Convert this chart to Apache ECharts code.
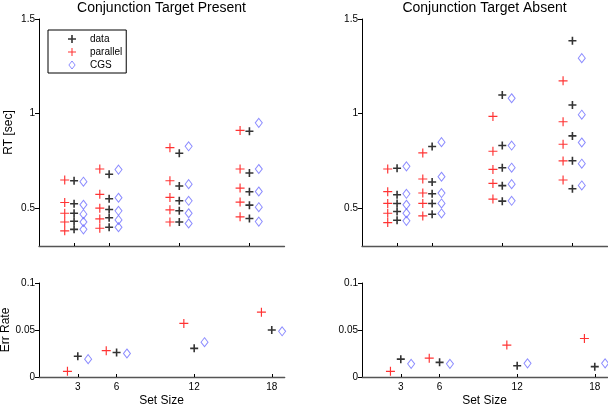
<!DOCTYPE html>
<html><head><meta charset="utf-8">
<script src="https://cdn.jsdelivr.net/npm/echarts@6/dist/echarts.min.js"></script>
<style>html,body{margin:0;padding:0;background:#fff}#c{width:608px;height:406px}</style>
</head><body><div id="c"></div>
<script>
// ---- data ----
const setSizes = [3, 6, 12, 18];
const xTicks = [3, 6, 12, 18];
const rtTicks = [0.5, 1, 1.5];
const errTicks = [0, 0.05, 0.1];
const seriesNames = ['data', 'parallel', 'CGS'];
const panelTitles = ['Conjunction Target Present', 'Conjunction Target Absent'];

// RT [sec], five values per set size
const rtPresentData = [
  [0.645, 0.523, 0.473, 0.431, 0.388],
  [0.679, 0.550, 0.493, 0.449, 0.399],
  [0.790, 0.617, 0.539, 0.486, 0.427],
  [0.907, 0.686, 0.587, 0.516, 0.445]
];
const rtPresentParallel = [
  [0.649, 0.530, 0.473, 0.427, 0.380],
  [0.707, 0.573, 0.500, 0.443, 0.394],
  [0.820, 0.645, 0.557, 0.491, 0.427],
  [0.911, 0.707, 0.606, 0.532, 0.454]
];
const rtPresentCGS = [
  [0.640, 0.518, 0.468, 0.427, 0.388],
  [0.704, 0.555, 0.486, 0.438, 0.399],
  [0.827, 0.627, 0.539, 0.473, 0.419],
  [0.951, 0.707, 0.588, 0.505, 0.429]
];
const rtAbsentData = [
  [0.711, 0.571, 0.525, 0.482, 0.436],
  [0.826, 0.638, 0.576, 0.525, 0.468],
  [1.098, 0.831, 0.714, 0.619, 0.537],
  [1.385, 1.045, 0.882, 0.751, 0.603]
];
const rtAbsentParallel = [
  [0.707, 0.587, 0.525, 0.473, 0.424],
  [0.792, 0.654, 0.580, 0.525, 0.459],
  [0.985, 0.801, 0.705, 0.631, 0.548],
  [1.173, 0.957, 0.838, 0.750, 0.649]
];
const rtAbsentCGS = [
  [0.721, 0.576, 0.518, 0.473, 0.433],
  [0.849, 0.666, 0.580, 0.525, 0.472],
  [1.081, 0.831, 0.714, 0.627, 0.539],
  [1.293, 0.994, 0.847, 0.735, 0.620]
];
// Error rates, one value per set size
const errPresentData = [0.022, 0.026, 0.0305, 0.050];
const errPresentParallel = [0.006, 0.028, 0.057, 0.069];
const errPresentCGS = [0.019, 0.025, 0.037, 0.0486];
const errAbsentData = [0.019, 0.0156, 0.012, 0.011];
const errAbsentParallel = [0.006, 0.020, 0.034, 0.041];
const errAbsentCGS = [0.014, 0.014, 0.0145, 0.0145];

// ---- styling ----
const FONT = 'Liberation Sans, Arial, Helvetica, sans-serif';
const OFFSET = { data: 0, parallel: -0.8, CGS: 0.8 };
function plusPath(t) {
  return 'path://M' + (-t) + ',-1 L' + t + ',-1 L' + t + ',' + (-t) + ' L1,' + (-t) + ' L1,' + t + ' L' + t + ',' + t +
    ' L' + t + ',1 L' + (-t) + ',1 L' + (-t) + ',' + t + ' L-1,' + t + ' L-1,' + (-t) + ' L' + (-t) + ',' + (-t) + ' Z';
}
const DIAMOND = 'path://M0,-1 L0.78,0 L0,1 L-0.78,0 Z';
const CGS_STYLE = { color: 'rgba(0,0,0,0)', borderColor: '#6f6fff', borderWidth: 1 };
const STYLE = {
  data: { symbol: plusPath(0.2), symbolSize: 8, itemStyle: { color: '#000' } },
  parallel: { symbol: plusPath(0.13), symbolSize: 9, itemStyle: { color: '#ff0000' } },
  CGS: { symbol: DIAMOND, symbolSize: [7, 9], itemStyle: CGS_STYLE }
};

function rtPoints(arr, name) {
  const pts = [];
  arr.forEach((vals, i) => vals.forEach(v => pts.push([setSizes[i] + OFFSET[name], v])));
  return pts;
}
function errPoints(arr, name) {
  return arr.map((v, i) => [setSizes[i] + OFFSET[name], v]);
}

const panels = [
  { grid: { left: 39, top: 19, width: 245.5, height: 227 }, xmax: 21, ymin: 0.3, ymax: 1.5, yt: rtTicks, xl: false,
    sets: { data: rtPresentData, parallel: rtPresentParallel, CGS: rtPresentCGS }, rt: true },
  { grid: { left: 362, top: 19, width: 245.5, height: 227 }, xmax: 21, ymin: 0.3, ymax: 1.5, yt: rtTicks, xl: false,
    sets: { data: rtAbsentData, parallel: rtAbsentParallel, CGS: rtAbsentCGS }, rt: true },
  { grid: { left: 39, top: 283, width: 245.7, height: 94 }, xmax: 19, ymin: 0, ymax: 0.1, yt: errTicks, xl: true,
    sets: { data: errPresentData, parallel: errPresentParallel, CGS: errPresentCGS }, rt: false },
  { grid: { left: 362, top: 283, width: 245.7, height: 94 }, xmax: 19, ymin: 0, ymax: 0.1, yt: errTicks, xl: true,
    sets: { data: errAbsentData, parallel: errAbsentParallel, CGS: errAbsentCGS }, rt: false }
];

const grid = [], xAxis = [], yAxis = [], series = [];
panels.forEach((p, k) => {
  grid.push(Object.assign({ containLabel: false }, p.grid));
  xAxis.push({
    gridIndex: k, type: 'value', min: 0, max: p.xmax,
    axisLine: { show: true, onZero: false, lineStyle: { color: '#555', width: 1.3 } },
    axisTick: { show: true, inside: true, length: 3, customValues: xTicks, lineStyle: { color: '#000' } },
    axisLabel: { show: p.xl, customValues: xTicks, margin: 5, fontSize: 10, color: '#000', fontFamily: FONT },
    splitLine: { show: false }
  });
  yAxis.push({
    gridIndex: k, type: 'value', min: p.ymin, max: p.ymax,
    axisLine: { show: true, onZero: false, lineStyle: { color: '#000', width: 1 } },
    axisTick: { show: true, inside: false, length: 4, customValues: p.yt, lineStyle: { color: '#000' } },
    axisLabel: { show: true, customValues: p.yt, margin: 4, fontSize: 10, color: '#000', fontFamily: FONT },
    splitLine: { show: false }
  });
  seriesNames.forEach(name => {
    const st = STYLE[name];
    series.push({
      type: 'scatter', name: name, xAxisIndex: k, yAxisIndex: k,
      symbol: st.symbol, symbolSize: st.symbolSize,
      itemStyle: st.itemStyle, emphasis: { disabled: true }, silent: true,
      data: p.rt ? rtPoints(p.sets[name], name) : errPoints(p.sets[name], name)
    });
  });
});

const graphic = [
  { type: 'text', x: 161.5, y: 1, style: { text: panelTitles[0], font: '14px ' + FONT, fill: '#000', align: 'center', verticalAlign: 'top' } },
  { type: 'text', x: 484.5, y: 1, style: { text: panelTitles[1], font: '14px ' + FONT, fill: '#000', align: 'center', verticalAlign: 'top' } },
  { type: 'text', x: 9, y: 132.5, rotation: Math.PI / 2, style: { text: 'RT [sec]', font: '12px ' + FONT, fill: '#000', align: 'center', verticalAlign: 'middle' } },
  { type: 'text', x: 6, y: 330, rotation: Math.PI / 2, style: { text: 'Err Rate', font: '12px ' + FONT, fill: '#000', align: 'center', verticalAlign: 'middle' } },
  { type: 'text', x: 161.5, y: 395, style: { text: 'Set Size', font: '12px ' + FONT, fill: '#000', align: 'center', verticalAlign: 'top' } },
  { type: 'text', x: 484.5, y: 395, style: { text: 'Set Size', font: '12px ' + FONT, fill: '#000', align: 'center', verticalAlign: 'top' } }
];

const chart = echarts.init(document.getElementById('c'), null, { renderer: 'canvas' });
chart.setOption({
  animation: false,
  backgroundColor: '#fff',
  grid, xAxis, yAxis, series, graphic,
  legend: {
    data: [
      { name: 'data' },
      { name: 'parallel' },
      { name: 'CGS', itemStyle: CGS_STYLE }
    ],
    orient: 'vertical', left: 48, top: 30,
    itemWidth: 26, itemHeight: 8, itemGap: 3, symbolKeepAspect: true,
    padding: [4, 4, 3, 20],
    borderColor: '#000', borderWidth: 1, backgroundColor: '#fff',
    selectedMode: false,
    textStyle: { fontSize: 10, color: '#000', fontFamily: FONT }
  }
});
</script></body></html>
